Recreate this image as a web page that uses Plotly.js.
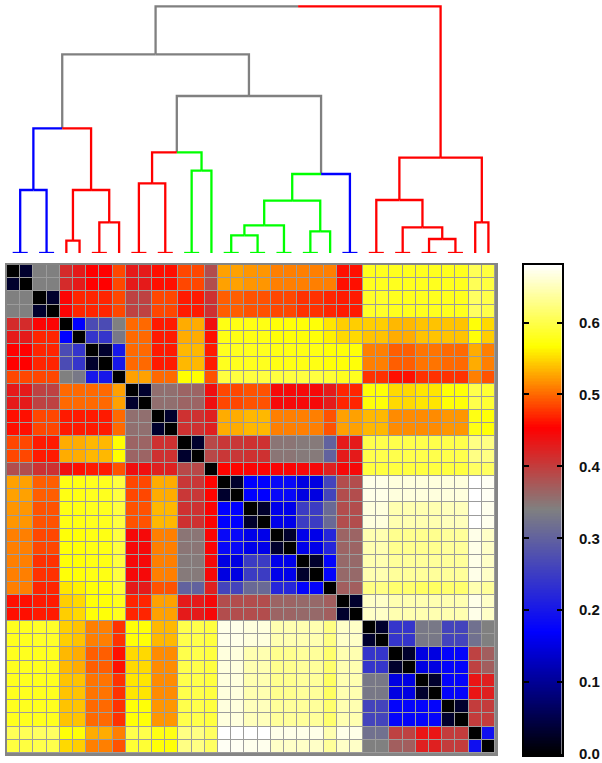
<!DOCTYPE html>
<html><head><meta charset="utf-8">
<script src="https://cdn.plot.ly/plotly-3.0.1.min.js"></script>
<style>html,body{margin:0;padding:0;background:#fff}#c{width:602px;height:763px}</style>
</head><body><div id="c"></div>
<script>
// Number of matrix cells in each dendrogram leaf, left to right
var leafSizes = [2,2,1,1,2,1,2,2,2,1,2,2,2,2,1,2,2,2,2,2,1,1];
// Distance between leaves (lower triangle, one row per leaf)
var leafDistances = [
 [0],
 [.34,0],
 [.415,.45,0],
 [.43,.47,.17,0],
 [.453,.47,.27,.24,0],
 [.485,.485,.34,.33,.2,0],
 [.43,.395,.50,.50,.50,.525,0],
 [.46,.485,.465,.465,.465,.50,.355,0],
 [.485,.465,.53,.53,.535,.567,.365,.41,0],
 [.385,.41,.44,.46,.465,.49,.44,.425,.39,0],
 [.525,.495,.575,.575,.58,.595,.485,.53,.405,.455,0],
 [.52,.49,.575,.575,.58,.595,.49,.535,.41,.45,.17,0],
 [.51,.485,.57,.57,.575,.595,.445,.51,.35,.45,.18,.155,0],
 [.51,.475,.57,.57,.575,.595,.445,.51,.345,.445,.15,.25,.155,0],
 [.51,.47,.555,.56,.57,.59,.43,.49,.30,.425,.26,.31,.22,.175,0],
 [.46,.465,.545,.55,.57,.58,.47,.525,.43,.445,.385,.385,.365,.36,.37,0],
 [.58,.585,.545,.54,.51,.475,.57,.535,.6,.595,.67,.665,.645,.645,.625,.655,0],
 [.58,.58,.535,.53,.495,.46,.55,.515,.6,.595,.665,.645,.63,.635,.615,.645,.24,0],
 [.58,.58,.54,.54,.505,.475,.555,.515,.6,.595,.665,.645,.63,.635,.61,.645,.33,.15,0],
 [.58,.58,.54,.54,.50,.475,.57,.52,.6,.595,.665,.65,.635,.635,.615,.645,.26,.175,.175,0],
 [.605,.61,.57,.57,.53,.51,.6,.575,.625,.61,.68,.68,.67,.67,.645,.67,.32,.395,.435,.40,0],
 [.595,.6,.55,.545,.51,.49,.59,.57,.625,.61,.675,.672,.655,.655,.635,.655,.34,.37,.425,.40,.19,0]
];
var withinLeafDistance = 0.03;
// Dendrogram merges: [left node, right node, height, left colour, right colour]
// Node numbers below 22 are leaves; each merge then gets the next number.
var GRAY='#808080', BLUE='#0000ff', RED='#ff0000', GREEN='#00ff00';
var merges = [
 [0,1,63,BLUE,BLUE],
 [2,3,12.3,RED,RED],
 [4,5,30.7,RED,RED],
 [23,24,63,RED,RED],
 [22,25,124.7,BLUE,RED],
 [6,7,69.7,RED,RED],
 [8,9,82.3,GREEN,GREEN],
 [27,28,100.7,RED,GREEN],
 [10,11,17.7,GREEN,GREEN],
 [30,12,27.7,GREEN,GREEN],
 [13,14,21.7,GREEN,GREEN],
 [31,32,52.3,GREEN,GREEN],
 [33,15,79,GREEN,BLUE],
 [29,34,157,GRAY,GRAY],
 [26,35,198.7,GRAY,GRAY],
 [18,19,14,RED,RED],
 [17,37,25.7,RED,RED],
 [16,38,53,RED,RED],
 [20,21,30.7,RED,RED],
 [39,40,95.3,RED,RED],
 [36,41,246.7,GRAY,RED]
];
var colorStops = [[0,'#000000'],[.25,'#0000ff'],[.5,'#808080'],[2/3,'#ff0000'],[5/6,'#ffff00'],[1,'#ffffff']];
var zMax = 0.68;

// Expand leaf distances into the cell matrix
var cellLeaf = [], leafCenter = [], pos = 0;
leafSizes.forEach(function(n,i){
  leafCenter.push(pos + n/2);
  for (var k=0;k<n;k++) cellLeaf.push(i);
  pos += n;
});
function dist(a,b){ return a>=b ? leafDistances[a][b] : leafDistances[b][a]; }
var z = cellLeaf.map(function(a,r){
  return cellLeaf.map(function(b,c){
    if (r===c) return 0;
    return a===b ? withinLeafDistance : dist(a,b);
  });
});
var nCells = cellLeaf.length;

// Dendrogram segments per colour
var segs = {};
[GRAY,BLUE,RED,GREEN].forEach(function(c){ segs[c]={x:[],y:[]}; });
function add(c,xs,ys){ var s=segs[c]; s.x=s.x.concat(xs,[null]); s.y=s.y.concat(ys,[null]); }
var nodeX = leafCenter.slice(), nodeH = leafCenter.map(function(){return 0;});
merges.forEach(function(m){
  var l=m[0], r=m[1], h=m[2];
  var mid=(nodeX[l]+nodeX[r])/2;
  add(m[3],[nodeX[l],nodeX[l],mid],[nodeH[l],h,h]);
  add(m[4],[mid,nodeX[r],nodeX[r]],[h,h,nodeH[r]]);
  [[l,m[3]],[r,m[4]]].forEach(function(p){
    if (p[0]<leafSizes.length && leafSizes[p[0]]===2)
      add(p[1],[nodeX[p[0]]-0.57,nodeX[p[0]]+0.57],[0,0]);
  });
  nodeX.push(mid); nodeH.push(h);
});

// Colour ramp for the scale bar
var rampLevels=[]; for (var v=0;v<=zMax+1e-9;v+=0.002) rampLevels.push(+v.toFixed(3));

var W=602,H=763;
var traces=[{
  type:'heatmap', z:z, x0:0.5, dx:1, y0:0.5, dy:1,
  colorscale:colorStops, zmin:0, zmax:zMax, showscale:false,
  xgap:1, ygap:1, xaxis:'x', yaxis:'y', hoverinfo:'skip'
},{
  type:'heatmap', z:rampLevels.map(function(v){return [v];}), y:rampLevels, x:[0],
  colorscale:colorStops, zmin:0, zmax:zMax, showscale:false,
  xaxis:'x3', yaxis:'y3', hoverinfo:'skip'
}];
[GRAY,BLUE,GREEN,RED].forEach(function(c){
  traces.push({type:'scatter',mode:'lines',x:segs[c].x,y:segs[c].y,xaxis:'x2',yaxis:'y2',
    line:{color:c,width:2.3},hoverinfo:'skip',showlegend:false,connectgaps:false,cliponaxis:false});
});

var layout={
  width:W,height:H,margin:{l:0,r:0,t:0,b:0},paper_bgcolor:'#fff',plot_bgcolor:'rgba(0,0,0,0)',showlegend:false,
  shapes:[{type:'rect',layer:'below',xref:'x',yref:'y',x0:0,x1:nCells,y0:0,y1:nCells,fillcolor:'#9c9c9c',line:{width:0}}],
  xaxis:{domain:[7/W,495/W],range:[0,nCells],anchor:'y',showticklabels:false,ticks:'',showgrid:false,zeroline:false,
    showline:true,mirror:true,linecolor:'#858585',linewidth:2.5},
  yaxis:{domain:[1-753/H,1-265/H],range:[nCells,0],anchor:'x',showticklabels:false,ticks:'',showgrid:false,zeroline:false,
    showline:true,mirror:true,linecolor:'#858585',linewidth:2.5},
  xaxis2:{domain:[7/W,495/W],range:[0,nCells],anchor:'y2',visible:false},
  yaxis2:{domain:[1-253/H,1],range:[0,253],anchor:'x2',visible:false},
  xaxis3:{domain:[524/W,561.5/W],range:[-.5,.5],anchor:'y3',showticklabels:false,ticks:'',showgrid:false,zeroline:false,
    showline:true,mirror:true,linecolor:'#000',linewidth:2.5},
  yaxis3:{domain:[1-754/H,1-265/H],range:[0,zMax],anchor:'x3',side:'right',tick0:0,dtick:.1,tickformat:'.1f',
    ticks:'inside',ticklen:5,tickwidth:2,tickcolor:'#000',mirror:'ticks',showgrid:false,zeroline:false,
    showline:true,linecolor:'#000',linewidth:2.5,ticklabelstandoff:12,
    tickfont:{family:'Liberation Sans, Arial, sans-serif',size:15,color:'#111',weight:700}}
};
Plotly.newPlot('c',traces,layout,{displayModeBar:false,staticPlot:true});
</script></body></html>
